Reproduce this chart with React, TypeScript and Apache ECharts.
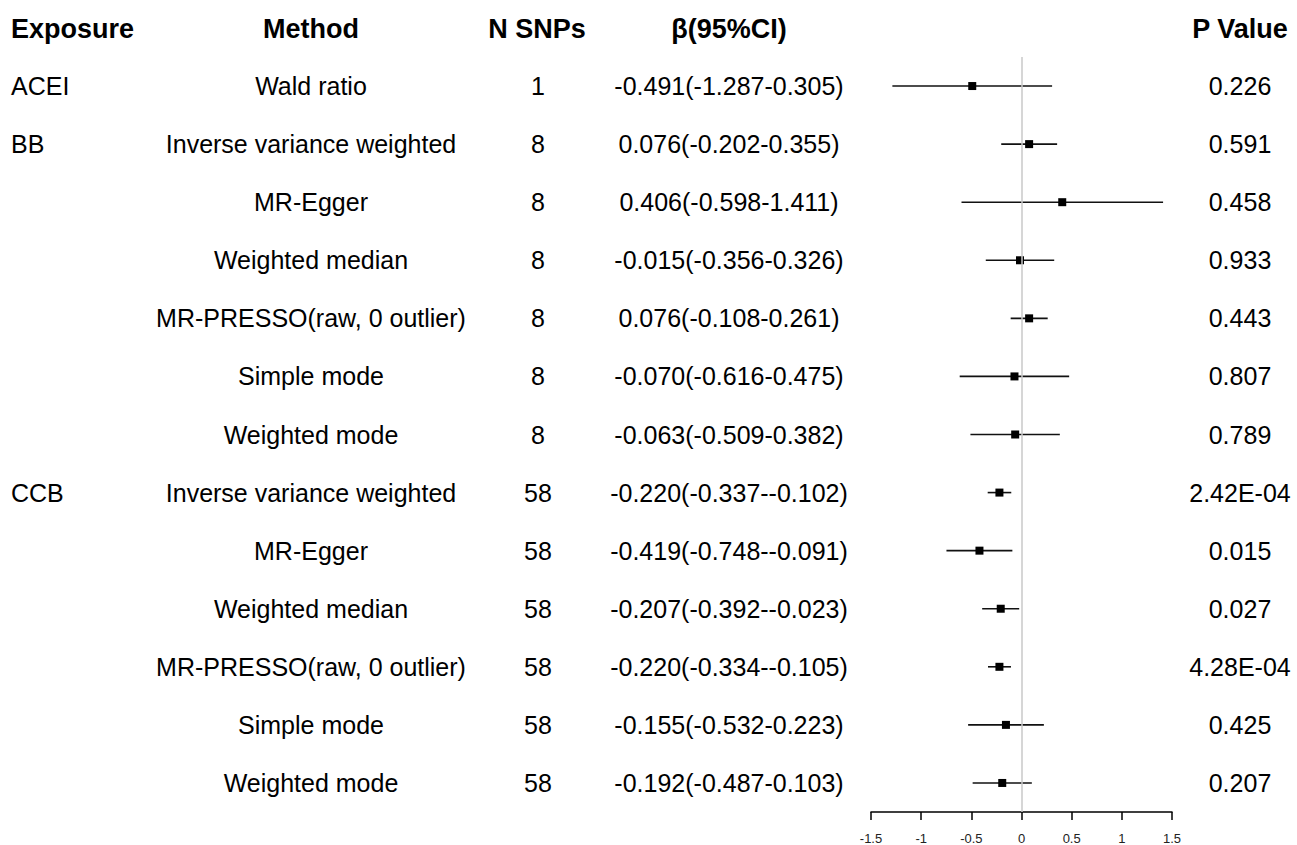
import React, { useEffect, useRef } from "react";
import * as echarts from "echarts";

const exposures = ["ACEI", "BB", "", "", "", "", "", "CCB", "", "", "", "", ""];
const methods = [
  "Wald ratio",
  "Inverse variance weighted",
  "MR-Egger",
  "Weighted median",
  "MR-PRESSO(raw, 0 outlier)",
  "Simple mode",
  "Weighted mode",
  "Inverse variance weighted",
  "MR-Egger",
  "Weighted median",
  "MR-PRESSO(raw, 0 outlier)",
  "Simple mode",
  "Weighted mode",
];
const nSnps = ["1", "8", "8", "8", "8", "8", "8", "58", "58", "58", "58", "58", "58"];
const betas = [-0.491, 0.076, 0.406, -0.015, 0.076, -0.07, -0.063, -0.22, -0.419, -0.207, -0.22, -0.155, -0.192];
const lows = [-1.287, -0.202, -0.598, -0.356, -0.108, -0.616, -0.509, -0.337, -0.748, -0.392, -0.334, -0.532, -0.487];
const highs = [0.305, 0.355, 1.411, 0.326, 0.261, 0.475, 0.382, -0.102, -0.091, -0.023, -0.105, 0.223, 0.103];
const ciLabels = [
  "-0.491(-1.287-0.305)",
  "0.076(-0.202-0.355)",
  "0.406(-0.598-1.411)",
  "-0.015(-0.356-0.326)",
  "0.076(-0.108-0.261)",
  "-0.070(-0.616-0.475)",
  "-0.063(-0.509-0.382)",
  "-0.220(-0.337--0.102)",
  "-0.419(-0.748--0.091)",
  "-0.207(-0.392--0.023)",
  "-0.220(-0.334--0.105)",
  "-0.155(-0.532-0.223)",
  "-0.192(-0.487-0.103)",
];
const pValues = ["0.226", "0.591", "0.458", "0.933", "0.443", "0.807", "0.789", "2.42E-04", "0.015", "0.027", "4.28E-04", "0.425", "0.207"];
const headers = ["Exposure", "Method", "N SNPs", "β(95%CI)", "P Value"];
const xTicks = [-1.5, 1.5, 0.5];

const FONT = "'Liberation Sans', Arial, Helvetica, sans-serif";
const FS = 25;
const FSB = 27;

export default function App() {
  const ref = useRef<HTMLDivElement>(null);
  useEffect(() => {
    if (!ref.current) return;
    const chart = echarts.init(ref.current, undefined, { renderer: "svg" });
    const rows = methods.map((_, i) => String(i));

    const txt = (text: string, x: number, y: number, align: string, bold = false) => ({
      type: "text",
      x,
      y,
      style: {
        text,
        fontSize: bold ? FSB : FS,
        fontFamily: FONT,
        fontWeight: bold ? "bold" : "normal",
        fill: "#000",
        align,
        verticalAlign: "middle",
        textAlign: align,
        textVerticalAlign: "middle",
      },
    });

    const option: any = {
      animation: false,
      backgroundColor: "#fff",
      grid: { left: 871, right: 125, top: 57, bottom: 32, containLabel: false },
      xAxis: {
        type: "value",
        min: xTicks[0],
        max: xTicks[1],
        interval: xTicks[2],
        axisLine: { show: true, lineStyle: { color: "#000", width: 1.5 } },
        axisTick: { show: true, length: 8, lineStyle: { color: "#000", width: 1.5 } },
        axisLabel: { fontSize: 13, color: "#222", fontFamily: FONT, margin: 20 },
        splitLine: { show: false },
      },
      yAxis: {
        type: "category",
        data: rows,
        inverse: true,
        show: false,
      },
      graphic: [
        txt(headers[0], 11, 29, "left", true),
        txt(headers[1], 311, 29, "center", true),
        txt(headers[2], 537, 29, "center", true),
        txt(headers[3], 729, 29, "center", true),
        txt(headers[4], 1240, 29, "center", true),
      ],
      series: [
        {
          type: "custom",
          name: "table",
          data: methods.map((_, i) => [0, i]),
          encode: { x: 0, y: 1 },
          renderItem: (params: any, api: any) => {
            const i = api.value(1);
            const y = api.coord([0, i])[1];
            return {
              type: "group",
              children: [
                txt(exposures[i], 11, y, "left"),
                txt(methods[i], 311, y, "center"),
                txt(nSnps[i], 538, y, "center"),
                txt(ciLabels[i], 729, y, "center"),
                txt(pValues[i], 1240, y, "center"),
              ],
            };
          },
          markLine: {
            silent: true,
            symbol: "none",
            label: { show: false },
            lineStyle: { color: "#c8c8c8", width: 1.5, type: "solid" },
            data: [{ xAxis: 0 }],
          },
          z: 1,
        },
        {
          type: "custom",
          name: "estimates",
          data: betas.map((b, i) => [b, i, lows[i], highs[i]]),
          encode: { x: 0, y: 1 },
          renderItem: (params: any, api: any) => {
            const b = api.value(0);
            const i = api.value(1);
            const p = api.coord([b, i]);
            const l = api.coord([api.value(2), i]);
            const h = api.coord([api.value(3), i]);
            const s = 8;
            return {
              type: "group",
              children: [
                {
                  type: "line",
                  shape: { x1: l[0], y1: l[1], x2: h[0], y2: h[1] },
                  style: { stroke: "#111", lineWidth: 1.6 },
                },
                {
                  type: "rect",
                  shape: { x: p[0] - s / 2, y: p[1] - s / 2, width: s, height: s },
                  style: { fill: "#000" },
                },
              ],
            };
          },
          z: 3,
        },
      ],
    };
    chart.setOption(option);
    return () => chart.dispose();
  }, []);
  return <div ref={ref} style={{ width: 1297, height: 845, position: "absolute", left: 0, top: 0 }} />;
}
